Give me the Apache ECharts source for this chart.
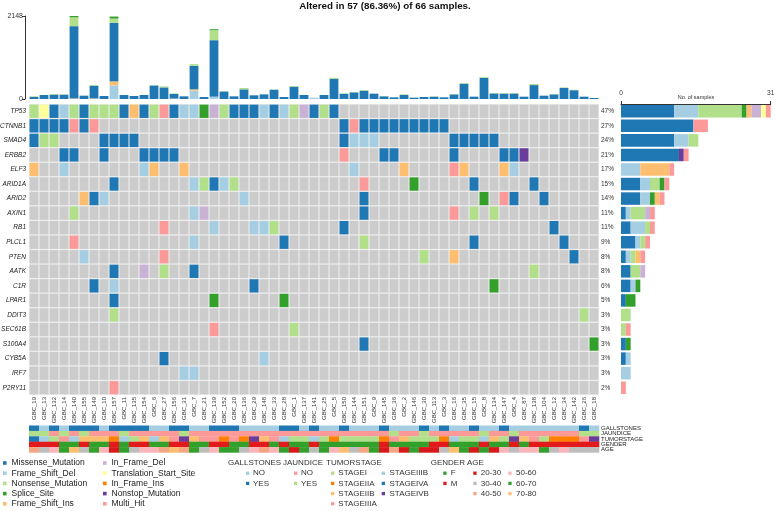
<!DOCTYPE html>
<html><head><meta charset="utf-8">
<script src="https://cdn.jsdelivr.net/npm/echarts@6/dist/echarts.min.js"></script>
<style>html,body{margin:0;padding:0;background:#fff}#c{width:775px;height:511px}</style>
</head><body><div id="c"></div>
<script>
// ---------------- DATA ----------------
const titleText = 'Altered in 57 (86.36%) of 66 samples.';
const samples = ['GBC_19','GBC_13','GBC_132','GBC_14','GBC_140','GBC_155','GBC_149','GBC_10','GBC_157','GBC_11',
 'GBC_135','GBC_154','GBC_6','GBC_27','GBC_156','GBC_31','GBC_7','GBC_21','GBC_139','GBC_152',
 'GBC_20','GBC_136','GBC_29','GBC_148','GBC_33','GBC_28','GBC_1','GBC_137','GBC_141','GBC_25',
 'GBC_5','GBC_150','GBC_144','GBC_151','GBC_9','GBC_145','GBC_36','GBC_2','GBC_146','GBC_30',
 'GBC_113','GBC_3','GBC_16','GBC_35','GBC_15','GBC_8','GBC_134','GBC_147','GBC_4','GBC_87',
 'GBC_138','GBC_104','GBC_12','GBC_34','GBC_142','GBC_26','GBC_18'];
const genes = ['TP53','CTNNB1','SMAD4','ERBB2','ELF3','ARID1A','ARID2','AXIN1','RB1','PLCL1',
 'PTEN','AATK','C1R','LPAR1','DDIT3','SEC61B','S100A4','CYB5A','IRF7','P2RY11'];
const genePct = ['47%','27%','24%','21%','17%','15%','14%','11%','11%','9%','8%','8%','6%','5%','3%','3%','3%','3%','3%','2%'];
const totalSamples = 31; // right axis max (No. of samples)
const countAxisName = 'No. of samples';

const variantNames = ['Missense_Mutation','Frame_Shift_Del','Nonsense_Mutation','Splice_Site','Frame_Shift_Ins',
 'In_Frame_Del','Translation_Start_Site','In_Frame_Ins','Nonstop_Mutation','Multi_Hit'];
const variantCodes = ['M','D','N','S','I','d','T','i','X','H'];
const variantColors = ['#1F78B4','#A6CEE3','#B2DF8A','#33A02C','#FDBF6F','#CAB2D6','#FFFF99','#FF7F00','#6A3D9A','#FB9A99'];

// one string per gene, one character per sample (groups of 10 separated by spaces)
const mutRows = [
 'NTMDNMNNNM IMNHMDDSdN MMMDMDNdMN M......... .......... .......', // TP53
 'MMMMHMH... .......... .......... .MHMMMMMMM MM........ .......', // CTNNB1
 'MNN....MMM M......... .......... .MDDD..... ..MMMMM... .......', // SMAD4
 '...MM..M.. .MMMM..... .......... .H...MM... ..M....MMX .......', // ERBB2
 'I..D...... .DI..I.... .......... ..D....I.. ..HI...ID. .......', // ELF3
 '........M. ......DNMD N......... ...H....S. ....M..... M......', // ARID1A
 '.....IMD.. .......... .D........ ...M...... .....S.HM. .M.....', // ARID2
 '....N..... ......Dd.. .......... ...M...... ..H.N.N... .......', // AXIN1
 '.......... ...H....D. ..DDN..... .M........ .......... ..M....', // RB1
 '....H..... ......D... .....M.... ...N...... ....M..... ...M...', // PLCL1
 '.....D.... ...H...... .......... .........N ..I....... ....M..', // PTEN
 '........M. .d.N..M... .......... .......... .......... N......', // AATK
 '......M.D. .......... ..M....... .......... ......S... .......', // C1R
 '........M. ........S. .....S.... .......... .......... .......', // LPAR1
 '........N. .......... .......... .......... .......... .....N.', // DDIT3
 '.......... ........H. ......N... .......... .......... .......', // SEC61B
 '.......... .......... .......... ...M...... .......... ......S', // S100A4
 '.......... ...M...... ...D...... .......... .......... .......', // CYB5A
 '.......... .....DD... .......... .......... .......... .......', // IRF7
 '........H. .......... .......... .......... .......... .......'  // P2RY11
];

// TMB per sample, stacked by class
const tmbFrameShiftDel = [0,0,0,0,0,0,0,0,353,0, 0,0,0,0,0,0,215,0,60,0, 0,0,0,0,0,0,0,0,34,0, 0,0,0,0,0,0,0,0,0,0, 0,0,0,0,0,0,0,0,0,0, 0,0,0,0,0,0,0];
const tmbFrameShiftIns = [0,0,0,0,15,0,15,0,103,0, 0,0,0,0,10,0,34,0,0,0, 0,0,0,0,0,0,0,0,0,0, 0,0,0,0,0,0,0,0,0,0, 0,0,0,0,0,0,0,0,0,0, 0,0,0,0,0,0,0];
const tmbMissense = [55,103,115,112,1870,86,330,77,1514,103, 77,103,350,300,120,69,611,52,1462,195,
 69,250,95,120,240,52,320,103,0,103, 525,135,172,215,138,70,43,108,34,52,
 60,43,120,395,60,550,145,140,142,60, 360,86,120,285,228,60,26];
const tmbNonsense = [15,0,14,8,230,0,16,0,112,0, 0,0,11,27,16,0,43,0,258,11, 0,34,0,0,9,0,15,0,0,0,
 25,11,9,17,0,7,0,12,0,0, 9,0,9,18,0,18,10,15,13,0, 27,0,9,16,13,0,0];
const tmbSplice = [0,0,0,0,33,0,0,0,52,0, 0,0,0,0,0,0,0,0,26,0, 0,0,0,0,0,0,0,0,0,0, 0,0,0,0,0,0,0,0,0,0, 0,0,0,0,0,0,0,0,0,0, 0,0,0,0,0,0,0];
const tmbMax = 2148;

// clinical annotation tracks (one char per sample)
const trackNames = ['GALLSTONES','JAUNDICE','TUMORSTAGE','GENDER','AGE'];
const gallstones = 'YNYNYYYNYY YYNNYYNNYY YNNNNYYNYN NYNNNYNNNY NYNNYNNYNN NNNNNYN';
const jaundice   = 'YYNYNYNNNY NNNNNYNNNN NNNNNNNNNN NNNNNNYNNY NNNNNYNNYN NNNNNYY';
const tumorStage = '4c13cbbbac 1bcb35b33a 3a5b3c11c1 a1111a3b11 1ac11cb15b 31aaa35';
const gender     = 'MMMFFMFFMF MMFFMMFFMM FFMMFMFFMF FFFFFMFFFF MMFFFMFFMF MMMMMMM';
const age        = '3245625415 2443635245 5243451525 4623513151 1265151424 4524222';

const gallLevels = {N:['NO','#A6CEE3'], Y:['YES','#1F78B4']};
const jaunLevels = {N:['NO','#FB9A99'], Y:['YES','#B2DF8A']};
const stageLevels = {'1':['STAGEI','#B2DF8A'],'a':['STAGEIIA','#FF7F00'],'b':['STAGEIIB','#FDBF6F'],'3':['STAGEIIIA','#FB9A99'],
 'c':['STAGEIIIB','#A6CEE3'],'4':['STAGEIVA','#1F78B4'],'5':['STAGEIVB','#6A3D9A']};
const genderLevels = {F:['F','#33A02C'], M:['M','#E31A1C']};
const ageLevels = {'1':['20-30','#D7191C'],'2':['30-40','#BDBDBD'],'3':['40-50','#F4A582'],'4':['50-60','#FBB4B9'],'5':['60-70','#33A02C'],'6':['70-80','#FDBF6F']};

// ---------------- BUILD ----------------
const FONT = '"Liberation Sans", Arial, Helvetica, sans-serif';
const clean = s => s.replace(/\s+/g,'');
const rows = mutRows.map(clean);

const cellData = [];
rows.forEach((r, gi) => {
  for (let si = 0; si < samples.length; si++) {
    cellData.push([si, gi, variantCodes.indexOf(r[si])]);
  }
});

const counts = variantCodes.map(code => rows.map(r => r.split('').filter(ch => ch === code).length));

const trackStrings = [gallstones, jaundice, tumorStage, gender, age].map(clean);
const trackLevels = [gallLevels, jaunLevels, stageLevels, genderLevels, ageLevels];
const trackColorList = [];
const trackData = [];
trackStrings.forEach((str, ti) => {
  for (let si = 0; si < samples.length; si++) {
    const lv = trackLevels[ti][str[si]];
    trackColorList.push(lv ? lv[1] : '#ffffff');
    trackData.push([si, ti, trackColorList.length - 1]);
  }
});

const chart = echarts.init(document.getElementById('c'), null, {renderer:'canvas'});

const series = [];
const tmbStack = [
  ['Frame_Shift_Del', tmbFrameShiftDel, '#A6CEE3'],
  ['Frame_Shift_Ins', tmbFrameShiftIns, '#FDBF6F'],
  ['Missense_Mutation', tmbMissense, '#1F78B4'],
  ['Nonsense_Mutation', tmbNonsense, '#B2DF8A'],
  ['Splice_Site', tmbSplice, '#33A02C']
];
tmbStack.forEach(([n, d, c]) => series.push({
  type:'bar', name:n, xAxisIndex:0, yAxisIndex:0, stack:'tmb', data:d,
  barCategoryGap:'12%', itemStyle:{color:c}, silent:true
}));

series.push({
  type:'custom', xAxisIndex:1, yAxisIndex:1, data:cellData, silent:true,
  renderItem: (params, api) => {
    const t = api.value(2);
    const c = api.coord([api.value(0), api.value(1)]);
    const s = api.size([1,1]);
    return {type:'rect', shape:{x:c[0]-s[0]/2+0.5, y:c[1]-s[1]/2+0.6, width:s[0]-1, height:s[1]-1.2},
      style:{fill: t < 0 ? '#CCCCCC' : variantColors[t]}};
  }
});

series.push({
  type:'custom', xAxisIndex:2, yAxisIndex:3, data:trackData, silent:true,
  renderItem: (params, api) => {
    const c = api.coord([api.value(0), api.value(1)]);
    const s = api.size([1,1]);
    return {type:'rect', shape:{x:c[0]-s[0]/2, y:c[1]-s[1]/2, width:s[0]+0.3, height:s[1]+0.2},
      style:{fill: trackColorList[api.value(2)]}};
  }
});

variantNames.forEach((n, k) => series.push({
  type:'bar', name:n, xAxisIndex:3, yAxisIndex:4, stack:'cnt', data:counts[k],
  barCategoryGap:'14%', itemStyle:{color:variantColors[k]}, silent:true
}));

// graphic: title + legends
const g = [];
const txt = (x, y, text, size, opts={}) => g.push({type:'text', x, y, silent:true,
  style:Object.assign({text, font:(opts.bold?'bold ':'') + size + 'px ' + FONT, fill:opts.fill||'#222',
    textAlign:opts.align||'left', textVerticalAlign:'middle', align:opts.align||'left', verticalAlign:'middle'})});
const sq = (x, y, color, w=3.6) => g.push({type:'rect', silent:true, shape:{x, y:y-w/2, width:w, height:w}, style:{fill:color}});

txt(385, 6, titleText, 9.8, {bold:true, align:'center', fill:'#111'});
txt(696, 97.5, countAxisName, 5.5, {align:'center', fill:'#333'});

const rowY = [463, 473.2, 483.4, 493.6, 503.8];
variantNames.forEach((n, k) => {
  const col = k < 5 ? 0 : 1, r = k % 5;
  sq(col ? 103 : 3, rowY[r], variantColors[k]);
  txt(col ? 111.5 : 11.5, rowY[r], n, 8.5);
});
const annTitle = (x, t) => txt(x, rowY[0], t, 8, {fill:'#333'});
const annItems = (sx, tx, list, start) => list.forEach((lv, i) => { sq(sx, rowY[start+i], lv[1], 3.3); txt(tx, rowY[start+i], lv[0], 8, {fill:'#333'}); });
annTitle(228, 'GALLSTONES');
annItems(246, 253, [gallLevels.N, gallLevels.Y], 1);
annTitle(283, 'JAUNDICE');
annItems(294, 301, [jaunLevels.N, jaunLevels.Y], 1);
annTitle(326, 'TUMORSTAGE');
annItems(331, 338.3, ['1','a','b','3'].map(k => stageLevels[k]), 1);
annItems(381.7, 389.5, ['c','4','5'].map(k => stageLevels[k]), 1);
annTitle(430.7, 'GENDER');
annItems(443.3, 450.7, [genderLevels.F, genderLevels.M], 1);
annTitle(467, 'AGE');
annItems(473.3, 480.7, ['1','2','3'].map(k => ageLevels[k]), 1);
annItems(508.3, 516, ['4','5','6'].map(k => ageLevels[k]), 1);

const plain = v => String(v);
const option = {
  animation:false,
  backgroundColor:'#ffffff',
  textStyle:{fontFamily:FONT},
  grid:[
    {left:29, top:16, width:570, height:83, outerBoundsMode:'none', containLabel:false},
    {left:29, top:104, width:570, height:291, show:true, backgroundColor:'#efefef', borderWidth:0, outerBoundsMode:'none', containLabel:false},
    {left:29, top:425.5, width:570, height:27, outerBoundsMode:'none', containLabel:false},
    {left:621, top:104, width:149.7, height:291, outerBoundsMode:'none', containLabel:false}
  ],
  xAxis:[
    {gridIndex:0, type:'category', data:samples, show:false},
    {gridIndex:1, type:'category', data:samples, position:'bottom',
      axisLine:{show:false}, axisTick:{show:false},
      axisLabel:{rotate:90, fontSize:6, margin:2, interval:0, color:'#333', fontFamily:FONT}},
    {gridIndex:2, type:'category', data:samples, show:false},
    {gridIndex:3, type:'value', min:0, max:totalSamples, interval:totalSamples, position:'top',
      axisLine:{show:true, lineStyle:{color:'#333', width:1}},
      axisTick:{show:true, length:3, lineStyle:{color:'#333'}},
      axisLabel:{fontSize:6.5, margin:7, color:'#333', fontFamily:FONT, formatter:plain},
      splitLine:{show:false}}
  ],
  yAxis:[
    {gridIndex:0, type:'value', min:0, max:tmbMax, interval:tmbMax, offset:4,
      axisLine:{show:true, lineStyle:{color:'#333', width:1}},
      axisTick:{show:true, length:3, lineStyle:{color:'#333'}},
      axisLabel:{fontSize:7, margin:2, color:'#333', fontFamily:FONT, formatter:plain},
      splitLine:{show:false},
      name:'TMB', nameLocation:'middle', nameGap:11, nameRotate:90,
      nameTextStyle:{fontSize:5.5, color:'#333', fontFamily:FONT}},
    {gridIndex:1, type:'category', data:genes, inverse:true,
      axisLine:{show:false}, axisTick:{show:false},
      axisLabel:{fontSize:6.5, fontStyle:'italic', margin:3, color:'#222', fontFamily:FONT}},
    {gridIndex:1, type:'category', data:genePct, inverse:true, position:'right',
      axisLine:{show:false}, axisTick:{show:false},
      axisLabel:{fontSize:6.5, margin:2, color:'#333', fontFamily:FONT}},
    {gridIndex:2, type:'category', data:trackNames, inverse:true, position:'right',
      axisLine:{show:false}, axisTick:{show:false},
      axisLabel:{fontSize:6, margin:2, color:'#222', fontFamily:FONT, interval:0}},
    {gridIndex:3, type:'category', data:genes, inverse:true, show:false}
  ],
  series,
  graphic:g
};
chart.setOption(option);
</script>
</body></html>
